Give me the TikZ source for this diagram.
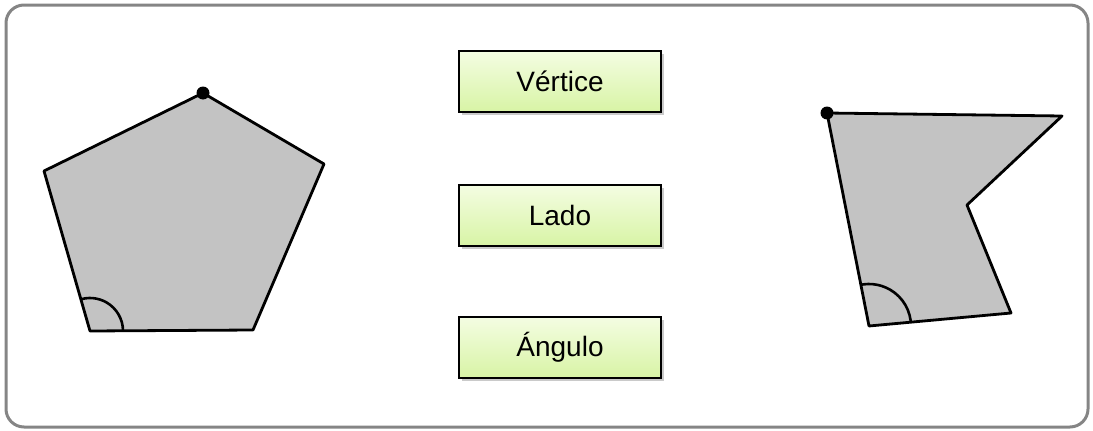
\documentclass[tikz,border=0pt]{standalone}
\usepackage{fontspec}
\setmainfont{Liberation Sans}
\usetikzlibrary{shadows}
\definecolor{frame}{HTML}{858585}
\definecolor{boxtop}{HTML}{F4FDE2}
\definecolor{boxbot}{HTML}{D8F4A6}
\definecolor{polyfill}{HTML}{C3C3C3}
\tikzset{
  labelbox/.style={draw=black, line width=2pt, top color=boxtop, bottom color=boxbot,
    minimum width=202pt, minimum height=61pt, inner sep=0pt,
    font=\fontsize{28}{30}\selectfont,
    drop shadow={shadow xshift=3pt, shadow yshift=-3pt, opacity=0.35, fill=black!60}},
  poly/.style={draw=black, line width=2.8pt, fill=polyfill, line join=round},
  anglemark/.style={draw=black, line width=2.6pt},
  vdot/.style={circle, fill=black, inner sep=0pt, minimum size=13pt}
}
\begin{document}
\begin{tikzpicture}[x=1pt,y=-1pt]
\useasboundingbox (0,0) rectangle (1093,431);
% outer frame
\draw[frame, line width=3pt, rounded corners=18pt] (6,5) rectangle (1088,427);

% pentagon
\coordinate (p1) at (203,93);
\coordinate (p2) at (324,164);
\coordinate (p3) at (253,330);
\coordinate (p4) at (90,331);
\coordinate (p5) at (44,171);
\draw[poly] (p1) -- (p2) -- (p3) -- (p4) -- (p5) -- cycle;
\begin{scope}
\clip (p1) -- (p2) -- (p3) -- (p4) -- (p5) -- cycle;
\draw[anglemark] (p4) ++(33,0) arc[start angle=0, end angle=-110, radius=33];
\end{scope}
\node[vdot] (d1) at (p1) {};

% concave shape
\coordinate (q1) at (827,113);
\coordinate (q2) at (1062,116);
\coordinate (q3) at (967,205);
\coordinate (q4) at (1011,313);
\coordinate (q5) at (869,326);
\draw[poly] (q1) -- (q2) -- (q3) -- (q4) -- (q5) -- cycle;
\begin{scope}
\clip (q1) -- (q2) -- (q3) -- (q4) -- (q5) -- cycle;
\draw[anglemark] (q5) ++(42,0) arc[start angle=0, end angle=-110, radius=42];
\end{scope}
\node[vdot] (d2) at (q1) {};

% labels
\node[labelbox] (vertice) at (560,81) {Vértice};
\node[labelbox] (lado) at (560,215) {Lado};
\node[labelbox] (angulo) at (560,347) {Ángulo};
\end{tikzpicture}
\end{document}
